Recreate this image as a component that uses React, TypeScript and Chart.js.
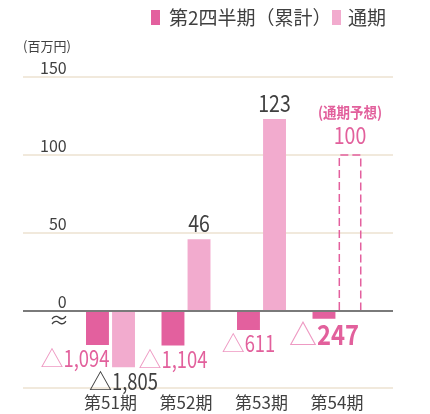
import React, { useEffect, useRef } from 'react';
import { Chart, registerables } from 'chart.js';

Chart.register(...registerables);

// ---- data ----
const categories = ['第51期', '第52期', '第53期', '第54期'];
const q2Values = [-1094, -1104, -611, -247];
const fullYearValues = [-1805, 46, 123, 100];
const forecastIndex = 3; // 第54期 通期 is a forecast
const yTickValues = [0, 50, 100, 150];
const legendLabels = ['第2四半期（累計）', '通期'];
const unitLabel = '(百万円)';
const forecastNote = '(通期予想)';
const NEG_COMPRESS = 50; // broken axis: negative part drawn at 1/50 scale

// ---- styles ----
const DARK = '#E3609E';
const LIGHT = '#F2ABCE';
const TEXT = '#404040';
const PINK_TEXT = '#E2609C';
const PINK_TRI = '#EE9AC3';
const GRID = '#ECE2D1';
const ZERO = '#7A7A7A';
const FONT = '"Noto Sans CJK JP", "Noto Sans", sans-serif';
const GRID_L = 23;
const GRID_R = 393;

const toScale = (v: number) => (v < 0 ? v / NEG_COMPRESS : v);
const numText = (v: number) => Math.abs(v).toLocaleString('en-US');

function drawPiece(ctx: CanvasRenderingContext2D, text: string, x: number, y: number, font: string, color: string, sx: number) {
  ctx.save();
  ctx.translate(x, y);
  ctx.scale(sx, 1);
  ctx.font = font;
  ctx.fillStyle = color;
  ctx.textAlign = 'left';
  ctx.textBaseline = 'middle';
  ctx.fillText(text, 0, 0);
  ctx.restore();
}

function drawValue(ctx: CanvasRenderingContext2D, v: number, cx: number, cy: number, size: number, bold: boolean, color: string, triColor: string, sx: number) {
  const font = `${bold ? 'bold ' : ''}${size}px ${FONT}`;
  ctx.save();
  ctx.font = font;
  const tri = v < 0 ? '△' : '';
  const num = numText(v);
  const w1 = tri ? ctx.measureText(tri).width : 0;
  const w2 = ctx.measureText(num).width * sx;
  ctx.restore();
  const start = cx - (w1 + w2) / 2;
  if (tri) drawPiece(ctx, tri, start, cy, `${size}px ${FONT}`, triColor, 1);
  drawPiece(ctx, num, start + w1, cy, font, color, sx);
}

const decor = {
  id: 'decor',
  beforeDatasetsDraw(chart: any) {
    const { ctx, chartArea, scales } = chart;
    const y = scales.y;
    ctx.save();
    ctx.strokeStyle = GRID;
    ctx.lineWidth = 1.5;
    y.ticks.forEach((t: any) => {
      if (t.value === 0) return;
      const py = y.getPixelForValue(t.value);
      ctx.beginPath();
      ctx.moveTo(GRID_L, py);
      ctx.lineTo(GRID_R, py);
      ctx.stroke();
    });
    ctx.beginPath();
    ctx.moveTo(GRID_L, chartArea.bottom);
    ctx.lineTo(GRID_R, chartArea.bottom);
    ctx.stroke();
    ctx.restore();
  },
  afterDatasetsDraw(chart: any) {
    const { ctx, scales } = chart;
    const y = scales.y;
    const zeroY = y.getPixelForValue(0);
    ctx.save();
    // zero line
    ctx.strokeStyle = ZERO;
    ctx.lineWidth = 2;
    ctx.beginPath();
    ctx.moveTo(GRID_L, zeroY);
    ctx.lineTo(GRID_R, zeroY);
    ctx.stroke();

    // forecast dashed bar
    const fyMeta = chart.getDatasetMeta(1);
    const fb = fyMeta.data[forecastIndex];
    {
      const l = fb.x - fb.width / 2 + 0.75;
      const r = fb.x + fb.width / 2 - 0.75;
      ctx.strokeStyle = DARK;
      ctx.lineWidth = 1.5;
      ctx.setLineDash([8, 4]);
      ctx.beginPath();
      ctx.moveTo(l, fb.base - 1);
      ctx.lineTo(l, fb.y);
      ctx.lineTo(r, fb.y);
      ctx.lineTo(r, fb.base - 1);
      ctx.stroke();
      ctx.setLineDash([]);
    }

    // q2 labels (all negative)
    const q2Meta = chart.getDatasetMeta(0);
    q2Values.forEach((v, i) => {
      const b = q2Meta.data[i];
      const bottom = Math.max(b.y, b.base);
      const isLast = i === q2Values.length - 1;
      const size = isLast ? 28 : 23;
      const dx = i === 0 ? -22.5 : 0;
      drawValue(ctx, v, b.x + dx, bottom + 2 + size / 2, size, isLast, PINK_TEXT, PINK_TRI, isLast ? 0.85 : 0.8);
    });

    // full-year labels
    fullYearValues.forEach((v, i) => {
      const b = fyMeta.data[i];
      if (v < 0) {
        const bottom = Math.max(b.y, b.base);
        drawValue(ctx, v, b.x, bottom + 2 + 12, 23, false, TEXT, TEXT, 0.8);
      } else if (i === forecastIndex) {
        drawValue(ctx, v, b.x, b.y - 19.5, 23, false, PINK_TEXT, PINK_TEXT, 0.85);
        ctx.save();
        ctx.font = `bold 15px ${FONT}`;
        const w = ctx.measureText(forecastNote).width * 0.9;
        ctx.restore();
        drawPiece(ctx, forecastNote, b.x - w / 2, b.y - 43, `bold 15px ${FONT}`, PINK_TEXT, 0.9);
      } else {
        drawValue(ctx, v, b.x, b.y - 16, 23, false, TEXT, TEXT, 0.85);
      }
    });

    // legend
    ctx.fillStyle = DARK;
    ctx.fillRect(151, 10, 9, 15);
    drawPiece(ctx, legendLabels[0], 169, 18, `19px ${FONT}`, TEXT, 1);
    ctx.fillStyle = LIGHT;
    ctx.fillRect(332, 10, 9, 15);
    drawPiece(ctx, legendLabels[1], 348, 18, `19px ${FONT}`, TEXT, 1);

    // unit label
    drawPiece(ctx, unitLabel, 23, 46, `13px ${FONT}`, TEXT, 1);

    // axis break mark
    ctx.font = `20px ${FONT}`;
    ctx.fillStyle = TEXT;
    ctx.textAlign = 'center';
    ctx.textBaseline = 'middle';
    ctx.fillText('≈', 59, 320);
    ctx.restore();
  },
};

export default function App() {
  const ref = useRef<HTMLCanvasElement>(null);
  useEffect(() => {
    document.body.style.margin = '0';
    const canvas = ref.current;
    if (!canvas) return;
    const chart = new Chart(canvas, {
      type: 'bar',
      data: {
        labels: categories,
        datasets: [
          {
            label: legendLabels[0],
            data: q2Values.map(toScale),
            backgroundColor: DARK,
            categoryPercentage: 0.69,
            barPercentage: 0.88,
          },
          {
            label: legendLabels[1],
            data: fullYearValues.map(toScale),
            backgroundColor: fullYearValues.map((_, i) => (i === forecastIndex ? 'rgba(0,0,0,0)' : LIGHT)),
            categoryPercentage: 0.69,
            barPercentage: 0.88,
          },
        ],
      },
      options: {
        animation: false,
        responsive: false,
        layout: { padding: { left: 22.75, right: 55.25, top: 77, bottom: 1.3 } },
        plugins: { legend: { display: false }, tooltip: { enabled: false } },
        scales: {
          x: {
            grid: { display: false, drawTicks: false },
            border: { display: false },
            ticks: { font: { family: FONT, size: 17 }, color: TEXT, padding: 4 },
            afterFit: (s: any) => {
              s.height = 24.7;
            },
          },
          y: {
            min: -49.4,
            max: 150,
            grid: { display: false, drawTicks: false },
            border: { display: false },
            ticks: { font: { family: FONT, size: 16 }, color: TEXT, padding: 6, labelOffset: -9.5 },
            afterBuildTicks: (s: any) => {
              s.ticks = yTickValues.map((v) => ({ value: v }));
            },
            afterFit: (s: any) => {
              s.width = 50;
            },
          },
        },
      } as any,
      plugins: [decor],
    });
    return () => chart.destroy();
  }, []);
  return <canvas ref={ref} width={430} height={414} style={{ display: 'block', width: 430, height: 414 }} />;
}
